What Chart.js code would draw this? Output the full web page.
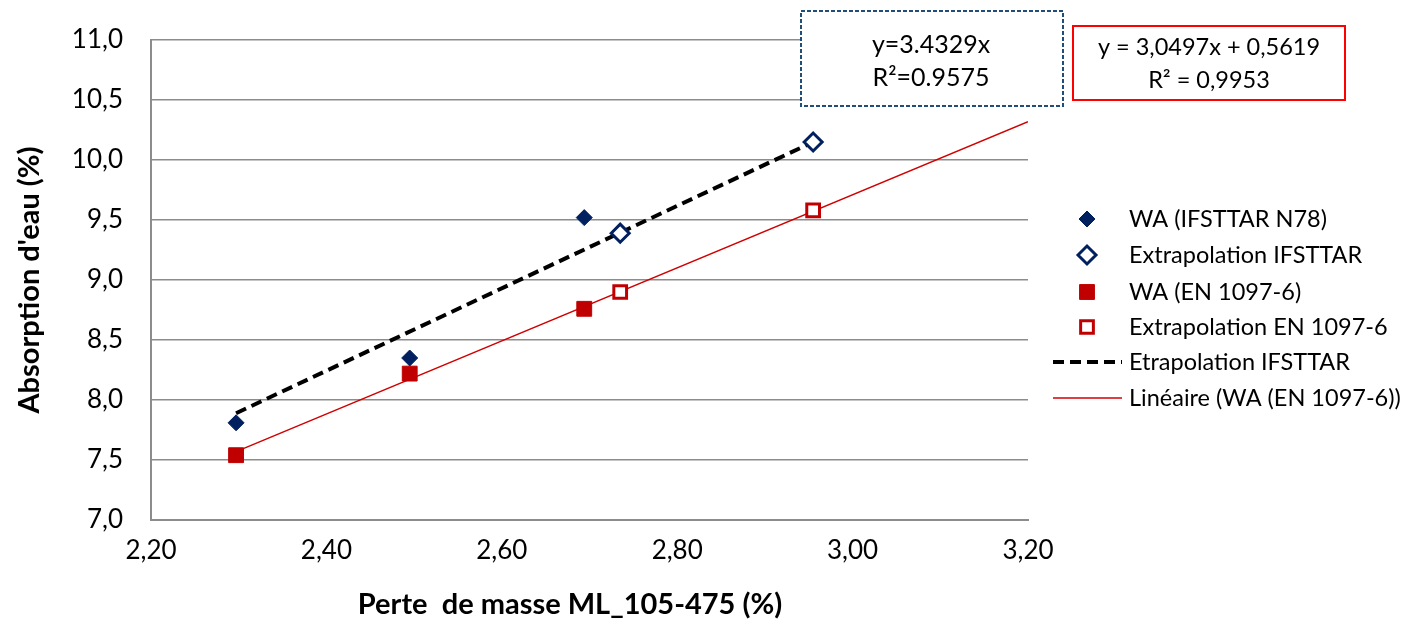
<!DOCTYPE html>
<html>
<head>
<meta charset="utf-8">
<script src="https://cdn.jsdelivr.net/npm/chart.js@4.4.1/dist/chart.umd.min.js"></script>
<style>
  html, body { margin: 0; padding: 0; background: #fff; }
  #wrap { width: 1420px; height: 623px; }
</style>
</head>
<body>
<div id="wrap"><canvas id="myChart" width="1420" height="623"></canvas></div>
<script>
// valeurs
const waIfsttarX = [2.297, 2.495, 2.694];
const waIfsttarY = [7.81, 8.35, 9.52];
const extraIfsttarX = [2.735, 2.955];
const extraIfsttarY = [9.39, 10.15];
const waEnX = [2.297, 2.495, 2.694];
const waEnY = [7.54, 8.22, 8.76];
const extraEnX = [2.735, 2.955];
const extraEnY = [8.90, 9.58];
// droites de tendance (extremites)
const trendIfsttarX = [2.297, 2.955];
const trendIfsttarY = [7.89, 10.15];
const trendEnX = [2.297, 3.20];
const trendEnY = [7.57, 10.32];

const xTicks = [2.20, 2.40, 2.60, 2.80, 3.00, 3.20];
const yTicks = [7.0, 7.5, 8.0, 8.5, 9.0, 9.5, 10.0, 10.5, 11.0];

const FONT = 'Lato, "Open Sans", sans-serif';
const BLUE = '#002060';
const RED = '#C00000';

function pts(xs, ys) {
    return xs.map((x, i) => ({ x: x, y: ys[i] }));
}

// legende dessinee a la main pour coller a la position Excel
const legendItems = [
    { text: 'WA (IFSTTAR N78)', type: 'point', style: 'rectRot', radius: 8, fill: BLUE, stroke: BLUE, bw: 1 },
    { text: 'Extrapolation IFSTTAR', type: 'point', style: 'rectRot', radius: 9, fill: '#fff', stroke: BLUE, bw: 3 },
    { text: 'WA (EN 1097-6)', type: 'point', style: 'rect', radius: 10.5, fill: RED, stroke: RED, bw: 1 },
    { text: 'Extrapolation EN 1097-6', type: 'point', style: 'rect', radius: 9, fill: '#fff', stroke: RED, bw: 3 },
    { text: 'Etrapolation IFSTTAR', type: 'line', color: '#000', width: 4, dash: [11, 6] },
    { text: 'Linéaire (WA (EN 1097-6))', type: 'line', color: '#D00000', width: 1.5, dash: [] }
];

const legendPlugin = {
    id: 'customLegend',
    afterDraw(chart) {
        const ctx = chart.ctx;
        const rows = [219, 255, 292, 327, 362, 398];
        ctx.save();
        ctx.font = '23.5px ' + FONT;
        ctx.textBaseline = 'middle';
        ctx.textAlign = 'left';
        legendItems.forEach((it, i) => {
            const y = rows[i];
            if (it.type === 'point') {
                ctx.fillStyle = it.fill;
                ctx.strokeStyle = it.stroke;
                ctx.lineWidth = it.bw;
                Chart.helpers.drawPoint(ctx, { pointStyle: it.style, radius: it.radius, borderWidth: it.bw, rotation: 0 }, 1087, y);
            } else {
                ctx.strokeStyle = it.color;
                ctx.lineWidth = it.width;
                ctx.setLineDash(it.dash);
                ctx.beginPath();
                ctx.moveTo(1053, y);
                ctx.lineTo(1122, y);
                ctx.stroke();
                ctx.setLineDash([]);
            }
            ctx.fillStyle = '#000';
            ctx.fillText(it.text, 1129, y);
        });
        ctx.restore();
    }
};

// encadres des equations + titre de l'axe X
const boxPlugin = {
    id: 'eqBoxes',
    afterDraw(chart) {
        const ctx = chart.ctx;
        ctx.save();
        // encadre IFSTTAR (pointille bleu)
        ctx.fillStyle = '#fff';
        ctx.fillRect(800, 10, 263, 96);
        ctx.strokeStyle = '#1F4E79';
        ctx.lineWidth = 2;
        ctx.setLineDash([4, 2]);
        ctx.strokeRect(801, 11, 262, 95);
        ctx.setLineDash([]);
        ctx.fillStyle = '#000';
        ctx.font = '25px ' + FONT;
        ctx.textAlign = 'center';
        ctx.textBaseline = 'middle';
        ctx.fillText('y=3.4329x', 931, 45);
        ctx.fillText('R²=0.9575', 931, 78);
        // encadre EN 1097-6 (rouge)
        ctx.fillStyle = '#fff';
        ctx.fillRect(1073, 26, 272, 74);
        ctx.strokeStyle = '#FF0000';
        ctx.lineWidth = 2;
        ctx.strokeRect(1073, 26, 272, 74);
        ctx.fillStyle = '#000';
        ctx.font = '23.5px ' + FONT;
        ctx.fillText('y = 3,0497x + 0,5619', 1209, 47);
        ctx.fillText('R² = 0,9953', 1209, 80);
        // titre axe X
        ctx.font = 'bold 29px ' + FONT;
        ctx.fillText('Perte  de masse ML_105-475 (%)', 570, 605);
        ctx.restore();
    }
};

const ctx = document.getElementById('myChart').getContext('2d');
const myChart = new Chart(ctx, {
    type: 'scatter',
    data: {
        datasets: [
            {
                label: 'Linéaire (WA (EN 1097-6))',
                type: 'line',
                data: pts(trendEnX, trendEnY),
                borderColor: '#D00000',
                borderWidth: 1.5,
                pointRadius: 0,
                fill: false,
                order: 6
            },
            {
                label: 'Etrapolation IFSTTAR',
                type: 'line',
                data: pts(trendIfsttarX, trendIfsttarY),
                borderColor: '#000',
                borderWidth: 4,
                borderDash: [11, 6],
                pointRadius: 0,
                fill: false,
                order: 5
            },
            {
                label: 'WA (IFSTTAR N78)',
                data: pts(waIfsttarX, waIfsttarY),
                pointStyle: 'rectRot',
                pointRadius: 8,
                backgroundColor: BLUE,
                borderColor: BLUE,
                borderWidth: 1,
                order: 1
            },
            {
                label: 'Extrapolation IFSTTAR',
                data: pts(extraIfsttarX, extraIfsttarY),
                pointStyle: 'rectRot',
                pointRadius: 9,
                backgroundColor: '#fff',
                borderColor: BLUE,
                borderWidth: 3,
                order: 2
            },
            {
                label: 'WA (EN 1097-6)',
                data: pts(waEnX, waEnY),
                pointStyle: 'rect',
                pointRadius: 10.5,
                backgroundColor: RED,
                borderColor: RED,
                borderWidth: 1,
                order: 3
            },
            {
                label: 'Extrapolation EN 1097-6',
                data: pts(extraEnX, extraEnY),
                pointStyle: 'rect',
                pointRadius: 9,
                backgroundColor: '#fff',
                borderColor: RED,
                borderWidth: 3,
                order: 4
            }
        ]
    },
    options: {
        responsive: false,
        animation: false,
        layout: { padding: { top: 40, right: 392, left: 0, bottom: 0 } },
        plugins: {
            legend: { display: false },
            tooltip: { enabled: false }
        },
        scales: {
            x: {
                type: 'linear',
                min: 2.2,
                max: 3.2,
                afterBuildTicks: (s) => { s.ticks = xTicks.map(v => ({ value: v })); },
                afterFit: (s) => { s.height = 103; s.paddingLeft = 0; s.paddingRight = 0; },
                grid: { display: false, drawTicks: false },
                border: { display: true, color: '#8c8c8c', width: 2 },
                ticks: {
                    padding: 15,
                    color: '#000',
                    font: { family: FONT, size: 26 },
                    callback: (v) => v.toFixed(2).replace('.', ',')
                }
            },
            y: {
                type: 'linear',
                min: 7,
                max: 11,
                afterBuildTicks: (s) => { s.ticks = yTicks.map(v => ({ value: v })); },
                afterFit: (s) => { s.width = 151; s.paddingTop = 0; s.paddingBottom = 0; },
                grid: { display: true, drawTicks: false, color: '#8c8c8c', lineWidth: 1.5 },
                border: { display: true, color: '#8c8c8c', width: 2 },
                ticks: {
                    padding: 28,
                    color: '#000',
                    font: { family: FONT, size: 26 },
                    callback: (v) => v.toFixed(1).replace('.', ',')
                },
                title: {
                    display: true,
                    text: "Absorption d'eau (%)",
                    color: '#000',
                    font: { family: FONT, size: 29, weight: 'bold' },
                    padding: { top: 12, bottom: 0 }
                }
            }
        }
    },
    plugins: [legendPlugin, boxPlugin]
});
</script>
</body>
</html>
